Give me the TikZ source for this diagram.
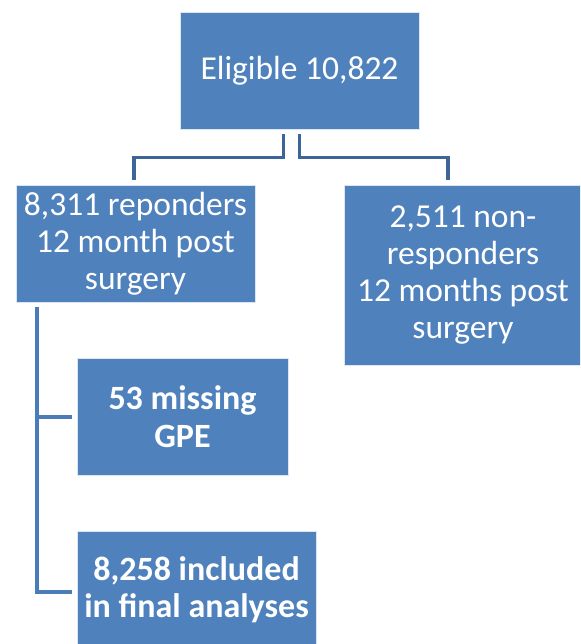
\documentclass[tikz,border=0pt]{standalone}
\usepackage{fontspec}
\setmainfont{Carlito}
\definecolor{boxblue}{RGB}{79,129,189}
\definecolor{linkblue}{RGB}{61,101,152}
\definecolor{branchblue}{RGB}{74,124,186}

\begin{document}
\begin{tikzpicture}[x=1pt,y=-1pt,
    box/.style={rectangle,fill=boxblue,draw=white!80!boxblue,line width=0.8pt,
      text=white,align=center,inner sep=0pt,font=\fontsize{33.5}{37}\selectfont},
    boldbox/.style={box,font=\fontsize{34}{37.5}\selectfont\bfseries},
    link/.style={draw=linkblue,line width=3.5pt},
    branch/.style={draw=branchblue,line width=4pt}]
  \clip (0,0) rectangle (580,644);
  \node[box,minimum width=239pt,minimum height=117pt] (elig) at (299.5,70.5) {Eligible 10,822};
  \node[box,minimum width=239pt,minimum height=117pt] (resp) at (135.5,243.5) {8,311 reponders\\12 month post\\surgery};
  \node[box,minimum width=238pt,minimum height=180pt] (nonresp) at (463,275) {2,511 non-\\responders\\12 months post\\surgery};
  \node[boldbox,minimum width=211pt,minimum height=117pt] (missing) at (182.5,416.5) {53 missing\\GPE};
  \node[boldbox,minimum width=239pt,minimum height=117pt] (incl) at (196.5,589.5) {8,258 included\\in final analyses};
  % split below the top box
  \draw[link] ([shift={(-16,5)}]elig.south) -- ++(0,23) -| ([shift={(-1.5,-5)}]resp.north);
  \draw[link] ([shift={(0,5)}]elig.south) -- ++(0,23) -| ([shift={(-15,-5)}]nonresp.north);
  % responders branch
  \draw[branch] ([shift={(21,5)}]resp.south west) |- ([xshift=-5pt]missing.west);
  \draw[branch] ([shift={(21,5)}]resp.south west) |- ([shift={(-5,2.5)}]incl.west);
\end{tikzpicture}
\end{document}
